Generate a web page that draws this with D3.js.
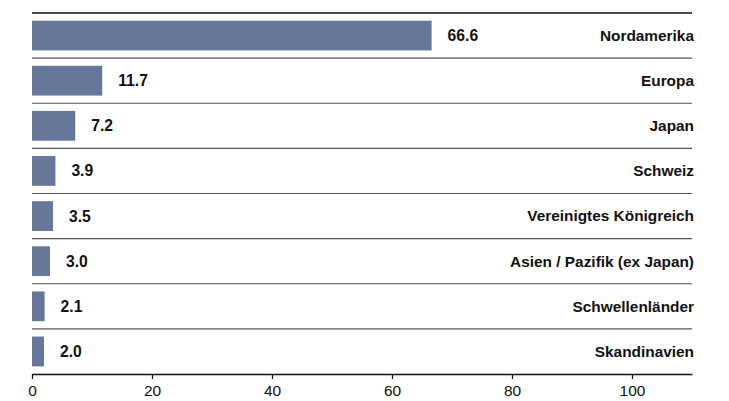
<!DOCTYPE html>
<html>
<head>
<meta charset="utf-8">
<script src="https://cdn.jsdelivr.net/npm/d3@7"></script>
<style>
  body { margin: 0; background: #fff; }
  text { font-family: "Liberation Sans", Arial, sans-serif; }
</style>
</head>
<body>
<div id="chart"></div>
<script>
var regions = ["Nordamerika", "Europa", "Japan", "Schweiz", "Vereinigtes Königreich",
               "Asien / Pazifik (ex Japan)", "Schwellenländer", "Skandinavien"];
var shares = [66.6, 11.7, 7.2, 3.9, 3.5, 3.0, 2.1, 2.0];
var tickValues = [0, 20, 40, 60, 80, 100];

var width = 729, height = 401;
var margin = {top: 13, left: 32, right: 37, bottom: 27};

var svg = d3.select("#chart").append("svg")
    .attr("width", width)
    .attr("height", height);

var x = d3.scaleLinear()
    .domain([0, 110])
    .range([margin.left, width - margin.right]);

var y = d3.scaleBand()
    .domain(regions)
    .range([margin.top, height - margin.bottom])
    .paddingInner(0.34)
    .paddingOuter(0.17)
    .align(0.5);

var rowStep = (height - margin.bottom - margin.top) / regions.length;

// row separators
svg.append("g").selectAll("line")
    .data(regions)
    .enter().append("line")
    .attr("x1", margin.left)
    .attr("x2", width - margin.right)
    .attr("y1", function(d, i) { return margin.top + i * rowStep; })
    .attr("y2", function(d, i) { return margin.top + i * rowStep; })
    .attr("stroke", function(d, i) { return i == 0 ? "#111" : "#555"; })
    .attr("stroke-width", function(d, i) { return i == 0 ? 1.5 : 1.2; });

// bars
svg.append("g").selectAll("rect")
    .data(shares)
    .enter().append("rect")
    .attr("x", x(0))
    .attr("y", function(d, i) { return y(regions[i]); })
    .attr("width", function(d) { return x(d) - x(0); })
    .attr("height", y.bandwidth())
    .attr("fill", "#67779a");

// value labels
svg.append("g").selectAll("text")
    .data(shares)
    .enter().append("text")
    .attr("x", function(d) { return x(d) + 16; })
    .attr("y", function(d, i) { return y(regions[i]) + y.bandwidth() / 2; })
    .attr("dy", "0.35em")
    .attr("font-size", 15.7)
    .attr("font-weight", "bold")
    .attr("fill", "#111")
    .text(function(d) { return d.toFixed(1); });

// category labels
svg.append("g").selectAll("text")
    .data(regions)
    .enter().append("text")
    .attr("x", width - margin.right + 2)
    .attr("y", function(d) { return y(d) + y.bandwidth() / 2; })
    .attr("dy", "0.35em")
    .attr("text-anchor", "end")
    .attr("font-size", 15.4)
    .attr("font-weight", "bold")
    .attr("fill", "#111")
    .text(function(d) { return d; });

// x axis
var axis = svg.append("g")
    .attr("transform", "translate(0," + (height - margin.bottom) + ")")
    .call(d3.axisBottom(x).tickValues(tickValues).tickSize(5).tickSizeOuter(0).tickPadding(6));

axis.select(".domain").attr("stroke", "#111").attr("stroke-width", 1.5);
axis.selectAll(".tick line").attr("stroke", "#111").attr("stroke-width", 1.3);
axis.selectAll(".tick text")
    .attr("font-size", 15.5)
    .attr("font-family", "Liberation Sans, Arial, sans-serif")
    .attr("fill", "#111");
</script>
</body>
</html>
